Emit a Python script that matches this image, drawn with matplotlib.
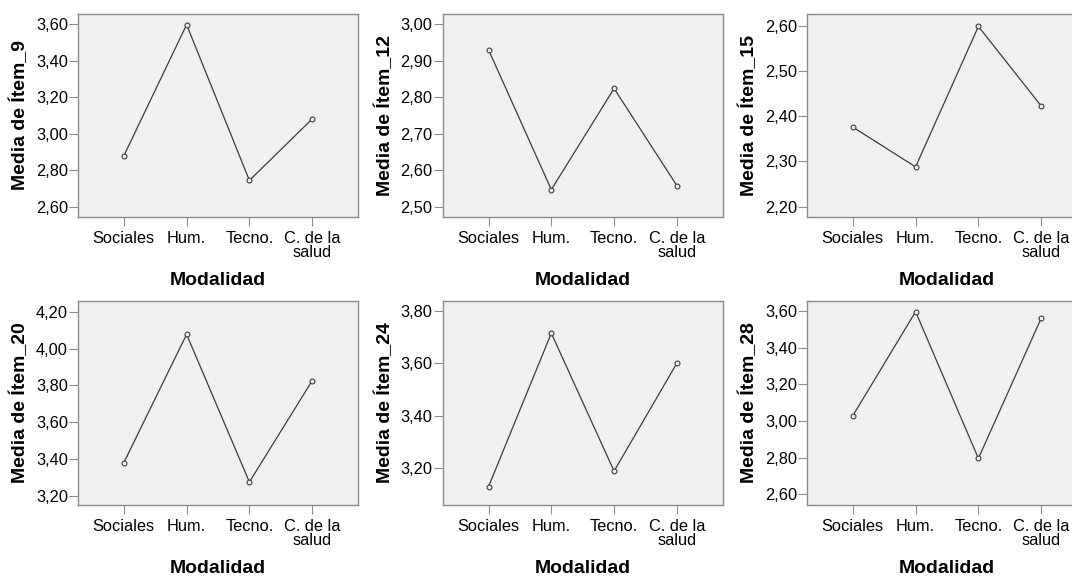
import matplotlib.pyplot as plt
from matplotlib.ticker import FuncFormatter

plt.rcParams['font.family'] = ['Liberation Sans', 'DejaVu Sans']

# categorias del eje x
modalidades = ['Sociales', 'Hum.', 'Tecno.', 'C. de la\nsalud']

# medias
item_9 = [2.879, 3.598, 2.744, 3.081]
item_12 = [2.930, 2.547, 2.824, 2.558]
item_15 = [2.376, 2.288, 2.599, 2.423]
item_20 = [3.379, 4.077, 3.274, 3.825]
item_24 = [3.130, 3.714, 3.189, 3.600]
item_28 = [3.029, 3.596, 2.796, 3.560]

etiquetas = ['Media de Ítem_9', 'Media de Ítem_12', 'Media de Ítem_15',
             'Media de Ítem_20', 'Media de Ítem_24', 'Media de Ítem_28']
series = [item_9, item_12, item_15, item_20, item_24, item_28]
limites = [(2.5435, 3.6565), (2.472, 3.028), (2.177, 2.6265),
           (3.149, 4.26), (3.060, 3.838), (2.542, 3.656)]
ticks_y = [[2.6, 2.8, 3.0, 3.2, 3.4, 3.6],
           [2.5, 2.6, 2.7, 2.8, 2.9, 3.0],
           [2.2, 2.3, 2.4, 2.5, 2.6],
           [3.2, 3.4, 3.6, 3.8, 4.0, 4.2],
           [3.2, 3.4, 3.6, 3.8],
           [2.6, 2.8, 3.0, 3.2, 3.4, 3.6]]

W, H = 1072, 576
fig = plt.figure(figsize=(W / 100, H / 100), dpi=100)

lefts = [78, 442.7, 807]
filas = [(14, 217), (300.7, 505)]
gris = '#8c8c8c'
coma = FuncFormatter(lambda v, p: f'{v:.2f}'.replace('.', ','))

for i in range(6):
    fila, col = divmod(i, 3)
    top, bottom = filas[fila]
    ax = fig.add_axes([lefts[col] / W, 1 - bottom / H, 280 / W, (bottom - top) / H])
    ax.set_facecolor('#f0f0f0')
    x = range(len(modalidades))
    ax.plot(x, series[i], color='#3c3c3c', lw=0.9, marker='o', ms=3.5,
            mfc='#f0f0f0', mec='#3c3c3c', mew=0.8)
    ax.set_xlim(-0.73, 3.73)
    ax.set_ylim(*limites[i])
    ax.set_yticks(ticks_y[i])
    ax.yaxis.set_major_formatter(coma)
    ax.set_xticks(list(x))
    ax.set_xticklabels(modalidades, linespacing=0.95)
    for s in ax.spines.values():
        s.set_color(gris)
        s.set_linewidth(1)
    ax.tick_params(axis='x', length=6.5, pad=3.5, color=gris, labelsize=11.8, labelcolor='black')
    ax.tick_params(axis='y', length=6.5, pad=0.8, color=gris, labelsize=11.8, labelcolor='black')
    ax.set_ylabel(etiquetas[i], fontsize=14, fontweight='bold')
    ax.set_xlabel('Modalidad', fontsize=14, fontweight='bold')
    ax.yaxis.set_label_coords(-0.175, 0.5)
    ax.xaxis.set_label_coords(0.5, -0.27)

plt.savefig('out.png', dpi=100)
